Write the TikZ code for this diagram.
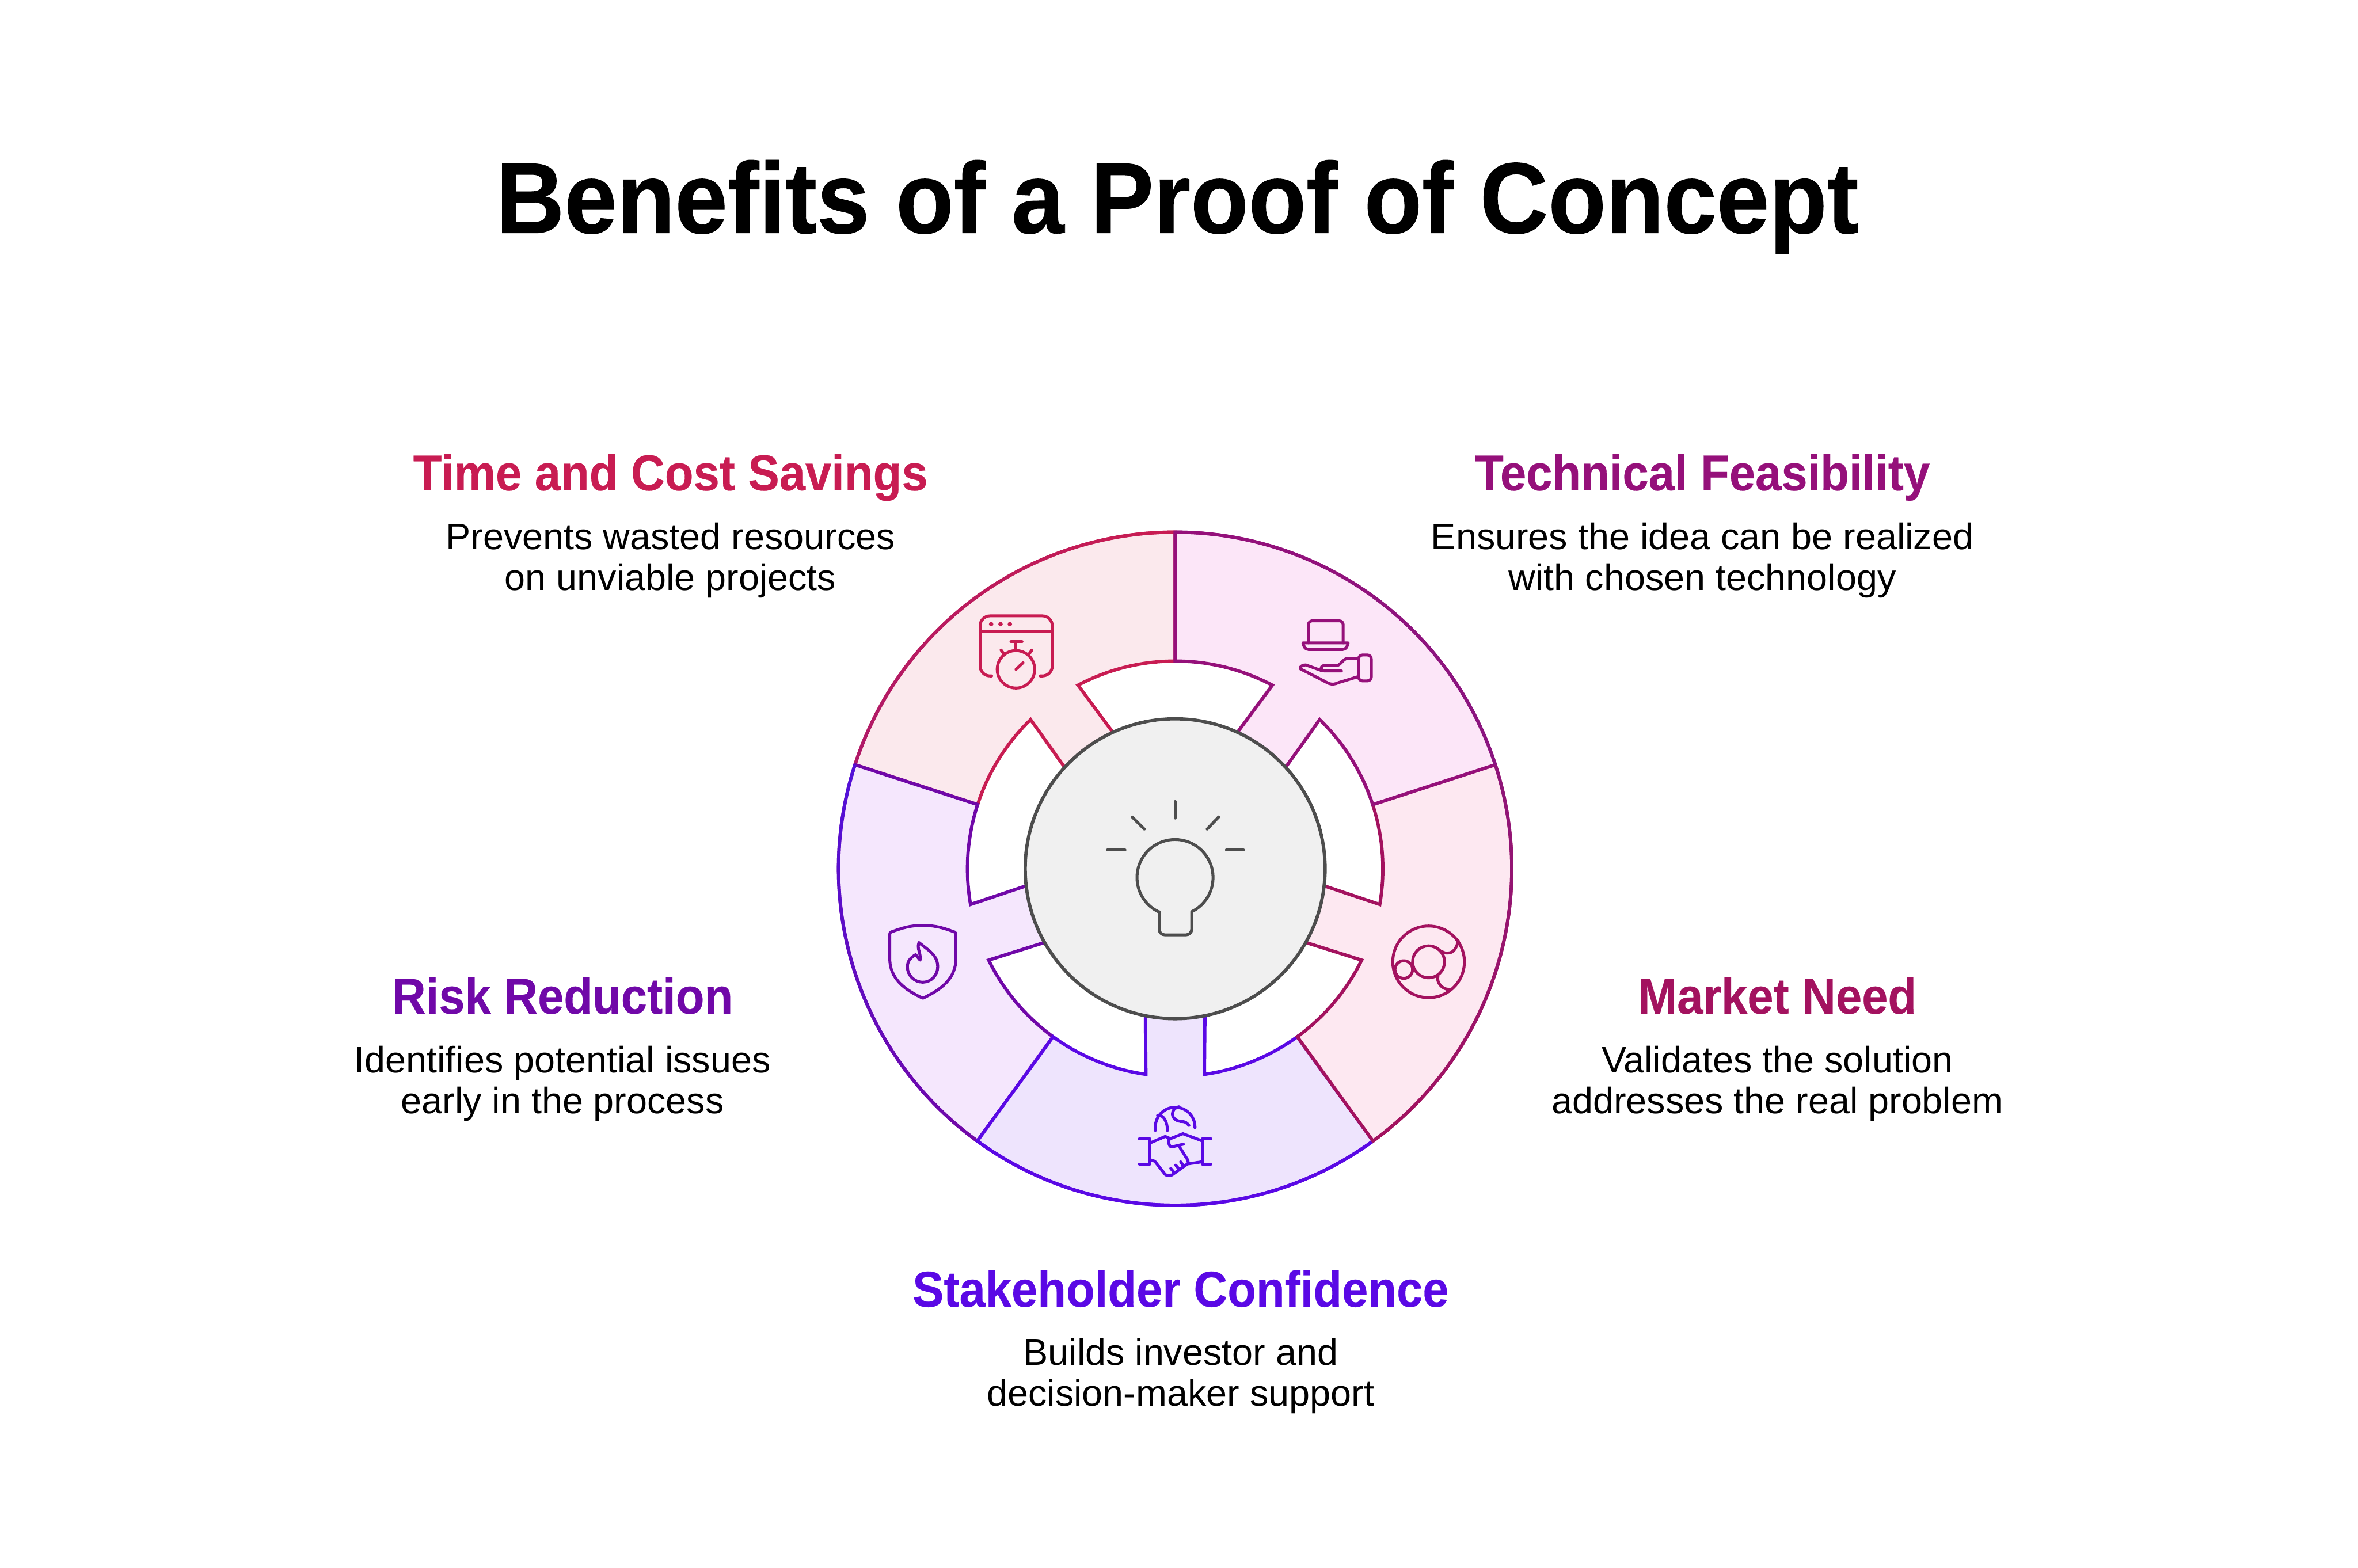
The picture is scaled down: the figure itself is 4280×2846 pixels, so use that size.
\documentclass[tikz,border=0pt]{standalone}
\usepackage{fontspec}
\setmainfont[FakeStretch=1.012]{Liberation Sans}
\newfontfamily\headfont[FakeStretch=0.93,FakeBold=0.3]{Liberation Sans Bold}
\newfontfamily\titlefont[FakeStretch=0.94,FakeBold=0.5]{Liberation Sans Bold}
\definecolor{timeline}{HTML}{C81C52}
\definecolor{timeend}{HTML}{B01A68}
\definecolor{techline}{HTML}{95107A}
\definecolor{techend}{HTML}{8A1580}
\definecolor{marketline}{HTML}{A3125F}
\definecolor{marketstart}{HTML}{8F1578}
\definecolor{stakeline}{HTML}{5A08E5}
\definecolor{riskline}{HTML}{7008A8}
\definecolor{riskstart}{HTML}{5210D8}
\definecolor{timefill}{HTML}{FBE9ED}
\definecolor{techfill}{HTML}{FCE6F8}
\definecolor{marketfill}{HTML}{FDE8F1}
\definecolor{stakefill}{HTML}{EEE4FD}
\definecolor{riskfill}{HTML}{F5E7FD}
\definecolor{hubfill}{HTML}{F0F0F0}
\definecolor{hubline}{HTML}{4D4D4D}
% one ring sector: rotation, fill, line colour, colours along the rim
\newcommand{\ringsector}[5]{%
	\begin{scope}[rotate=#1]
		\draw[sector_line, draw=#3, fill=#2] (90:611) -- (90:377)
			arc[start angle=90, end angle=62.1, radius=377] -- (111,244.8) -- (198.5,181.2)
			-- (45.9:377) arc[start angle=45.9, end angle=18, radius=377] -- (18:611)
			arc[start angle=18, end angle=90, radius=611] -- cycle;
		\foreach \i in {0,...,11} {
			\pgfmathsetmacro{\mixval}{100*\i/11}
			\pgfmathsetmacro{\arcfrom}{90-6*\i}
			\pgfmathsetmacro{\arcto}{84-6*\i}
			\draw[sector_line, draw=#5!\mixval!#4] (\arcfrom:611) arc[start angle=\arcfrom, end angle=\arcto, radius=611];
		}
	\end{scope}
}
\begin{document}
\begin{tikzpicture}[x=0.01cm, y=-0.01cm]
	\tikzstyle{sector_line} = [line width=1.7pt, line join=miter]
	\tikzstyle{icon_line} = [line width=1.5pt, line cap=round, line join=round]
	\tikzstyle{head_text} = [font=\headfont\fontsize{26}{30}\selectfont, anchor=base, inner sep=0pt]
	\tikzstyle{body_text} = [font=\fontsize{19}{21}\selectfont, align=center, inner sep=0pt, text=black]
	\tikzstyle{hub_disc} = [circle, draw=hubline, fill=hubfill, line width=1.7pt, minimum size=5.44cm, inner sep=0pt]

	\useasboundingbox (0,0) rectangle (4280,2846);

	\node[font=\titlefont\fontsize{52}{60}\selectfont, anchor=base, inner sep=0pt] (title) at (2137,423) {Benefits of a Proof of Concept};

%------------------------------------------------------------
	\begin{scope}[shift={(2133,1577)}, y=0.01cm]
		\ringsector{72}{timefill}{timeline}{timeend}{timeline}
		\ringsector{144}{riskfill}{riskline}{riskline}{riskstart}
		\ringsector{-144}{stakefill}{stakeline}{stakeline}{stakeline}
		\ringsector{-72}{marketfill}{marketline}{marketstart}{marketline}
		\ringsector{0}{techfill}{techline}{techline}{techend}
	\end{scope}

	\node[hub_disc] (hub) at (2133,1577) {};

%------------------------------------------------------------
	\node[head_text, text=timeline] (timehead) at (1217,890) {Time and Cost Savings};
	\node[body_text] (timebody) at (1217,1017) {Prevents wasted resources\\on unviable projects};

	\node[head_text, text=techline] (techhead) at (3090,890) {Technical Feasibility};
	\node[body_text] (techbody) at (3090,1017) {Ensures the idea can be realized\\with chosen technology};

	\node[head_text, text=marketline] (markethead) at (3226,1840) {Market Need};
	\node[body_text] (marketbody) at (3226,1967) {Validates the solution\\addresses the real problem};

	\node[head_text, text=riskline] (riskhead) at (1021,1840) {Risk Reduction};
	\node[body_text] (riskbody) at (1021,1967) {Identifies potential issues\\early in the process};

	\node[head_text, text=stakeline] (stakehead) at (2143,2372) {Stakeholder Confidence};
	\node[body_text] (stakebody) at (2143,2498) {Builds investor and\\decision-maker support};

%------------------------------------------------------------
	% bulb
	\draw[icon_line, draw=hubline] (2133,1455) -- (2133,1485);
	\draw[icon_line, draw=hubline] (2055,1483) -- (2077,1505);
	\draw[icon_line, draw=hubline] (2212,1483) -- (2191,1505);
	\draw[icon_line, draw=hubline] (2010,1543) -- (2042,1543);
	\draw[icon_line, draw=hubline] (2226,1543) -- (2257,1543);
	\draw[icon_line, draw=hubline] (2104,1655) -- (2104,1687) to[out=-90, in=180] (2114,1697) -- (2153,1697) to[out=0, in=-90] (2163,1687) -- (2163,1655)
		arc[start angle=64, end angle=-244, radius=69];

	% window with stopwatch
	\draw[icon_line, draw=timeline] (1800,1227) -- (1797,1227) to[out=180, in=-90] (1779,1209) -- (1779,1136) to[out=90, in=180] (1797,1118)
		-- (1892,1118) to[out=0, in=90] (1910,1136) -- (1910,1209) to[out=-90, in=0] (1892,1227) -- (1888,1227);
	\draw[icon_line, draw=timeline] (1779,1147) -- (1910,1147);
	\foreach \dotx in {1799,1816,1833}
		\fill[timeline] (\dotx,1133) circle (4);
	\draw[icon_line, draw=timeline] (1844,1215) circle (34);
	\draw[icon_line, draw=timeline] (1844,1181) -- (1844,1165);
	\draw[icon_line, draw=timeline] (1835,1165) -- (1855,1165);
	\draw[icon_line, draw=timeline] (1817,1180) -- (1822,1187);
	\draw[icon_line, draw=timeline] (1873,1180) -- (1868,1187);
	\draw[icon_line, draw=timeline] (1844,1215) -- (1857,1203);

	% laptop on a hand
	\draw[icon_line, draw=techline] (2375,1167) -- (2375,1134) to[out=90, in=180] (2382,1127) -- (2431,1127) to[out=0, in=90] (2438,1134) -- (2438,1167);
	\draw[icon_line, draw=techline] (2365,1167) -- (2447,1167) to[out=-100, in=0] (2437,1179) -- (2375,1179) to[out=180, in=-80] cycle;
	\draw[icon_line, draw=techline, rounded corners=2pt] (2466,1189) rectangle (2489,1236);
	\draw[icon_line, draw=techline] (2466,1195) -- (2447,1195) to[out=180, in=-15] (2423,1208) -- (2405,1208) to[out=180, in=90] (2398,1213) to[out=-90, in=180] (2404,1218) -- (2435,1218);
	\draw[icon_line, draw=techline] (2466,1228) -- (2430,1239) to[out=-165, in=0] (2420,1242) to[out=180, in=-30] (2403,1236) -- (2360,1214) to[out=100, in=180] (2370,1207) -- (2398,1217);

	% rings
	\draw[icon_line, draw=marketline] (2593,1746) circle (65);
	\draw[icon_line, draw=marketline] (2593,1746) circle (29);
	\draw[icon_line, draw=marketline] (2548,1760) circle (16);
	\draw[icon_line, draw=marketline] (2617,1727) to[out=-40, in=180] (2628,1730) to[out=0, in=-105] (2647,1708);
	\draw[icon_line, draw=marketline] (2610,1772) to[out=-105, in=180] (2630,1796);

	% globe and handshake
	\draw[icon_line, draw=stakeline] (2097,2052) -- (2097,2046) arc[start angle=180, end angle=360, radius=36] -- (2169,2047);
	\draw[icon_line, draw=stakeline] (2101,2025) to[out=10, in=90] (2119,2052);
	\draw[icon_line, draw=stakeline] (2140,2009) to[out=-170, in=90] (2128,2022) to[out=-90, in=180] (2146,2036) to[out=0, in=130] (2158,2043);
	\draw[icon_line, draw=stakeline] (2068,2067) -- (2087,2067) -- (2087,2113) -- (2068,2113);
	\draw[icon_line, draw=stakeline] (2198,2067) -- (2182,2067) -- (2182,2113) -- (2198,2113);
	\draw[icon_line, draw=stakeline] (2087,2075) -- (2115,2063) -- (2122,2066);
	\draw[icon_line, draw=stakeline] (2148,2077) -- (2127,2082) to[out=180, in=-100] (2122,2068) -- (2147,2058) -- (2182,2071);
	\draw[icon_line, draw=stakeline] (2141,2082) -- (2156,2106) to[out=-80, in=-20] (2155,2113) -- (2182,2109);
	\draw[icon_line, draw=stakeline] (2087,2105) -- (2096,2108) -- (2115,2132) to[out=-45, in=180] (2127,2133) -- (2155,2113);
	\draw[icon_line, draw=stakeline] (2125,2121) -- (2130,2127);
	\draw[icon_line, draw=stakeline] (2134,2115) -- (2139,2121);
	\draw[icon_line, draw=stakeline] (2143,2109) -- (2147,2115);

	% shield with flame
	\draw[icon_line, draw=riskline] (1675,1680) to[out=0, in=160] (1733,1692) to[out=-20, in=90] (1735,1697) -- (1735,1740) to[out=-90, in=25] (1675,1812)
		to[out=155, in=-90] (1615,1740) -- (1615,1697) to[out=90, in=-160] (1617,1692) to[out=20, in=180] cycle;
	\draw[icon_line, draw=riskline] (1668,1711) to[out=-40, in=90] (1702,1755) to[out=-90, in=0] (1675,1783) to[out=180, in=-90] (1647,1755) to[out=90, in=-150] (1662,1733) -- (1670,1743) to[out=80, in=-110] cycle;

\end{tikzpicture}
\end{document}
